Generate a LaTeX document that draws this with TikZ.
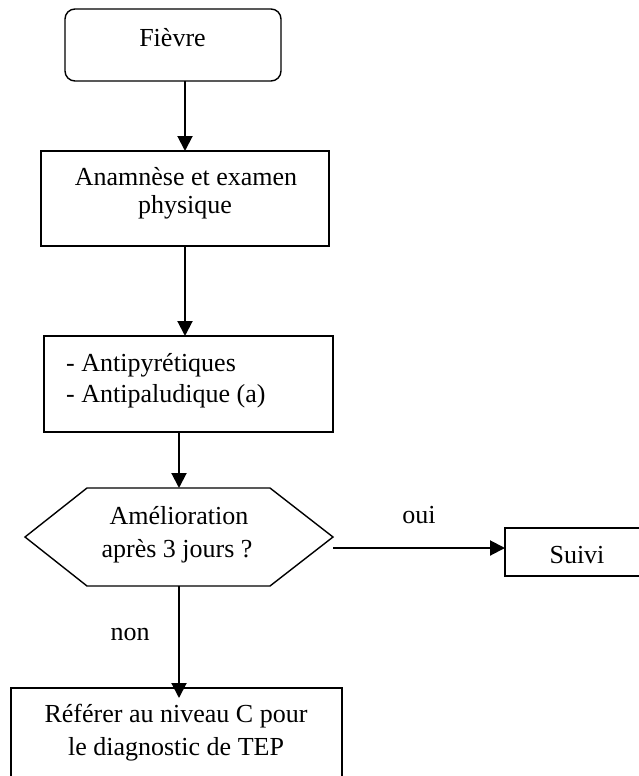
\documentclass[tikz,border=0pt]{standalone}
\usepackage{fontspec}
\setmainfont{Liberation Serif}
\usetikzlibrary{arrows.meta,calc}
\begin{document}
\begin{tikzpicture}[x=1pt,y=-1pt,
  boxline/.style={draw=black,line width=1.4pt,inner sep=0pt,outer sep=0pt,rectangle},
  arr/.style={line width=2pt,-{Triangle[length=15pt,width=15pt]}},
  txt/.style={anchor=base,inner sep=0pt,font=\fontsize{26}{30}\selectfont},
  txtl/.style={txt,anchor=base west}]
\useasboundingbox (0,0) rectangle (639,776);
\clip (0,0) rectangle (639,776);
% boxes
\node[boxline,rounded corners=10pt,minimum width=216pt,minimum height=72pt] (fievre) at (173,45) {};
\node[boxline,minimum width=288pt,minimum height=95pt] (anam) at (185,198.5) {};
\node[boxline,minimum width=289pt,minimum height=96pt] (anti) at (188.5,384) {};
\node[inner sep=0pt,outer sep=0pt,minimum width=308pt,minimum height=98pt] (dec) at (179,537) {};
\node[boxline,minimum width=155pt,minimum height=48pt] (suivi) at (582.5,552) {};
\node[boxline,minimum width=331pt,minimum height=112pt] (ref) at (176.5,744) {};
% decision hexagon
\draw[line width=1.4pt] (dec.west) -- ($(dec.north west)+(62,0)$) -- ($(dec.north east)+(-63,0)$)
  -- (dec.east) -- ($(dec.south east)+(-63,0)$) -- ($(dec.south west)+(62,0)$) -- cycle;
% texts
\node[txt] (t1) at (172.5,47) {Fièvre};
\node[txt] (t2a) at (186,185) {Anamnèse et examen};
\node[txt] (t2b) at (185,213) {physique};
\node[txtl] (t3a) at (66,371) {- Antipyrétiques};
\node[txtl] (t3b) at (66,402) {- Antipaludique (a)};
\node[txt] (t4a) at (179,524) {Amélioration};
\node[txt] (t4b) at (177,557) {après 3 jours ?};
\node[txt] (t5) at (577,563) {Suivi};
\node[txt] (t6a) at (176,722) {Référer au niveau C pour};
\node[txt] (t6b) at (176,755) {le diagnostic de TEP};
\node[txt] (oui) at (419,523) {oui};
\node[txt] (non) at (130,640) {non};
% connectors
\coordinate (ouiy) at (0,548);
\draw[arr] (fievre.south -| anam.north) -- (anam.north);
\draw[arr] (anam.south) -- (anam.south |- anti.north);
\draw[arr] (dec.north |- anti.south) -- (dec.north);
\draw[arr] (dec.east |- ouiy) -- (suivi.west |- ouiy);
\draw[arr,shorten >=-10pt] (dec.south) -- (dec.south |- ref.north);
\end{tikzpicture}
\end{document}
